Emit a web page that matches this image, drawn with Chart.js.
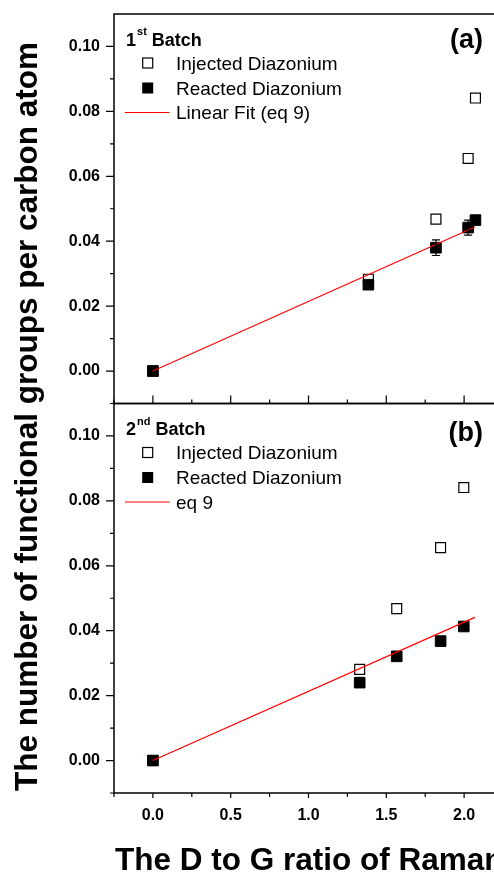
<!DOCTYPE html>
<html>
<head>
<meta charset="utf-8">
<script src="https://cdn.jsdelivr.net/npm/chart.js@4"></script>
<style>
  body { margin: 0; background: #fff; overflow: hidden; }
  #wrap { width: 494px; height: 873px; overflow: hidden; }
</style>
</head>
<body>
<div id="wrap"><canvas id="c" width="520" height="873"></canvas></div>
<script>
// Panel (a): 1st batch
const xTop = [0, 1.385, 1.819, 2.026, 2.073];
const injectedTop = [0, 0.0283, 0.0468, 0.0655, 0.0841];
const reactedTop = [0, 0.0266, 0.0380, 0.0442, 0.0465];
const errTop = [0, 0, 0.0024, 0.0023, 0];

// Panel (b): 2nd batch
const xBot = [0, 1.329, 1.567, 1.849, 1.998];
const injectedBot = [0, 0.0281, 0.0468, 0.0656, 0.0841];
const reactedBot = [0, 0.0240, 0.0321, 0.0368, 0.0413];

// eq 9 fit lines (start / end)
const fitX = [0, 2.07];
const fitTop = [0, 0.0444];
const fitBot = [0, 0.0441];

// ticks
const xTicks = [0, 0.5, 1.0, 1.5, 2.0];
const xMinor = [-0.25, 0.25, 0.75, 1.25, 1.75, 2.25];
const yTicks = [0, 0.02, 0.04, 0.06, 0.08, 0.10];
const yMinor = [-0.01, 0.01, 0.03, 0.05, 0.07, 0.09];

const FONT = '"Liberation Sans", Arial, sans-serif';
Chart.defaults.font.family = FONT;
Chart.defaults.color = '#000';

const pts = (xs, ys) => xs.map((x, i) => ({ x: x, y: ys[i] }));

function hollow(data, axis) {
  return { data: data, yAxisID: axis, order: 3, pointStyle: 'rect', pointRadius: 7, borderWidth: 1.2,
    borderColor: '#000', backgroundColor: '#fff', pointHoverRadius: 7 };
}
function filled(data, axis) {
  return { data: data, yAxisID: axis, order: 2, pointStyle: 'rect', pointRadius: 7.5, borderWidth: 1,
    borderColor: '#000', backgroundColor: '#000', pointHoverRadius: 7.5 };
}
function fitLine(data, axis) {
  return { data: data, yAxisID: axis, order: 1, showLine: true, pointRadius: 0, borderColor: '#ff0000',
    borderWidth: 1.2, backgroundColor: '#ff0000' };
}

function yScale() {
  return {
    type: 'linear', position: 'left', stack: 'panels', stackWeight: 1,
    min: -0.01, max: 0.11,
    grid: { display: false, drawTicks: false }, border: { display: false },
    afterBuildTicks: s => { s.ticks = yTicks.map(v => ({ value: v })); },
    afterFit: s => { s.width = 114; s.paddingTop = 0; s.paddingBottom = 0; },
    ticks: { padding: 14, font: { size: 16, weight: 'bold' }, callback: v => v.toFixed(2) }
  };
}

function drawLegend(ctx, left, top, num, sup, lineLabel) {
  ctx.fillStyle = '#000';
  ctx.textAlign = 'left';
  ctx.textBaseline = 'alphabetic';
  // title with superscript
  ctx.font = 'bold 18px ' + FONT;
  let x = left + 12;
  ctx.fillText(num, x, top + 31.5);
  x += ctx.measureText(num).width + 1;
  ctx.font = 'bold 11px ' + FONT;
  ctx.fillText(sup, x, top + 21);
  x += ctx.measureText(sup).width;
  ctx.font = 'bold 18px ' + FONT;
  ctx.fillText(' Batch', x, top + 31.5);

  const mx = left + 33.7, tx = left + 62;
  // hollow marker
  ctx.lineWidth = 1.2;
  ctx.strokeStyle = '#000';
  ctx.fillStyle = '#fff';
  ctx.fillRect(mx - 5, top + 49 - 5, 10, 10);
  ctx.strokeRect(mx - 5, top + 49 - 5, 10, 10);
  // filled marker
  ctx.fillStyle = '#000';
  ctx.fillRect(mx - 5.5, top + 74 - 5.5, 11, 11);
  // line
  ctx.strokeStyle = '#ff0000';
  ctx.beginPath();
  ctx.moveTo(left + 11, top + 98.5);
  ctx.lineTo(left + 55.5, top + 98.5);
  ctx.stroke();

  ctx.fillStyle = '#000';
  ctx.font = '19px ' + FONT;
  ctx.fillText('Injected Diazonium', tx, top + 55.5);
  ctx.fillText('Reacted Diazonium', tx, top + 80.5);
  ctx.fillText(lineLabel, tx, top + 105);
}

const decor = {
  id: 'decor',
  afterDatasetsDraw(chart) {
    const ctx = chart.ctx, x = chart.scales.x, y = chart.scales.yA;
    // error bars on the reacted points of panel (a)
    ctx.save();
    ctx.strokeStyle = '#000';
    ctx.lineWidth = 1.2;
    xTop.forEach((v, i) => {
      if (!errTop[i]) return;
      const px = x.getPixelForValue(v);
      const y1 = y.getPixelForValue(reactedTop[i] + errTop[i]);
      const y2 = y.getPixelForValue(reactedTop[i] - errTop[i]);
      ctx.beginPath();
      ctx.moveTo(px, y1); ctx.lineTo(px, y2);
      ctx.moveTo(px - 4, y1); ctx.lineTo(px + 4, y1);
      ctx.moveTo(px - 4, y2); ctx.lineTo(px + 4, y2);
      ctx.stroke();
    });
    ctx.restore();
  },
  afterDraw(chart) {
    const ctx = chart.ctx, area = chart.chartArea;
    const x = chart.scales.x, yA = chart.scales.yA, yB = chart.scales.yB;
    ctx.save();
    ctx.strokeStyle = '#000';
    ctx.lineWidth = 1.5;
    // frames
    [yA, yB].forEach(s => ctx.strokeRect(area.left, s.top, area.right - area.left, s.bottom - s.top));

    ctx.lineWidth = 1.2;
    ctx.beginPath();
    // y ticks, outward
    [yA, yB].forEach(s => {
      yTicks.forEach(v => { const p = s.getPixelForValue(v); ctx.moveTo(area.left - 8, p); ctx.lineTo(area.left, p); });
      yMinor.forEach(v => { const p = s.getPixelForValue(v); ctx.moveTo(area.left - 4, p); ctx.lineTo(area.left, p); });
    });
    // x ticks: outward at the bottom, inward on panel (a)'s lower edge
    xTicks.forEach(v => {
      const p = x.getPixelForValue(v);
      ctx.moveTo(p, area.bottom); ctx.lineTo(p, area.bottom + 5);
      ctx.moveTo(p, yA.bottom); ctx.lineTo(p, yA.bottom - 8);
    });
    xMinor.forEach(v => {
      const p = x.getPixelForValue(v);
      ctx.moveTo(p, area.bottom); ctx.lineTo(p, area.bottom + 4);
      ctx.moveTo(p, yA.bottom); ctx.lineTo(p, yA.bottom - 4);
    });
    ctx.stroke();

    // legends
    drawLegend(ctx, area.left, yA.top, '1', 'st', 'Linear Fit (eq 9)');
    drawLegend(ctx, area.left, yB.top, '2', 'nd', 'eq 9');

    // panel letters
    ctx.fillStyle = '#000';
    ctx.textAlign = 'right';
    ctx.font = 'bold 27px ' + FONT;
    ctx.fillText('(a)', 483, yA.top + 34);
    ctx.fillText('(b)', 483, yB.top + 37);

    // axis titles
    ctx.font = 'bold 31.5px ' + FONT;
    ctx.textAlign = 'left';
    ctx.fillText('The D to G ratio of Raman Spectra', area.left + 1, 870);
    ctx.translate(37, 416.5);
    ctx.rotate(-Math.PI / 2);
    ctx.textAlign = 'center';
    ctx.fillText('The number of functional groups per carbon atom', 0, 0);
    ctx.restore();
  }
};

new Chart(document.getElementById('c'), {
  type: 'scatter',
  data: {
    datasets: [
      hollow(pts(xTop, injectedTop), 'yA'),
      filled(pts(xTop, reactedTop), 'yA'),
      fitLine(pts(fitX, fitTop), 'yA'),
      hollow(pts(xBot, injectedBot), 'yB'),
      filled(pts(xBot, reactedBot), 'yB'),
      fitLine(pts(fitX, fitBot), 'yB')
    ]
  },
  options: {
    responsive: false,
    animation: false,
    layout: { padding: { top: 14, right: 17, left: 0, bottom: 0 } },
    plugins: { legend: { display: false }, tooltip: { enabled: false } },
    scales: {
      x: {
        type: 'linear', position: 'bottom', min: -0.25, max: 2.25,
        grid: { display: false, drawTicks: false }, border: { display: false },
        afterBuildTicks: s => { s.ticks = xTicks.map(v => ({ value: v })); },
        afterFit: s => { s.height = 80; },
        ticks: { padding: 13, font: { size: 16, weight: 'bold' }, maxRotation: 0, callback: v => v.toFixed(1) }
      },
      // stacked panels are placed bottom-up, so (b) is declared first
      yB: yScale(),
      yA: yScale()
    }
  },
  plugins: [decor]
});
</script>
</body>
</html>
